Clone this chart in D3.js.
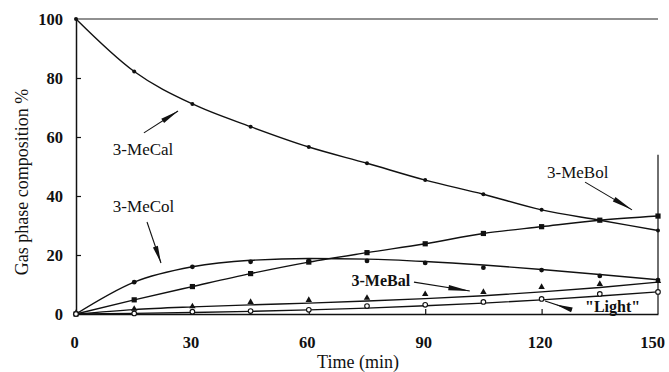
<!DOCTYPE html>
<html>
<head>
<meta charset="utf-8">
<script src="https://cdn.jsdelivr.net/npm/d3@7"></script>
<style>
  html, body { margin: 0; padding: 0; background: #fff; }
  svg { display: block; }
  text { font-family: "Liberation Serif", "Times New Roman", serif; fill: #111; }
</style>
</head>
<body>
<svg id="chart" width="669" height="372"></svg>
<script>
// Sampling times (min)
const times = [0, 15, 30, 45, 60, 75, 90, 105, 120, 135, 150];

// Measured gas-phase composition (%)
const meCal = [100, 82.2, 71.2, 63.5, 56.6, 51.1, 45.4, 40.6, 35.3, 31.8, 28.3];
const meBol = [0, 4.8, 9.3, 13.7, 17.6, 20.8, 23.8, 27.3, 29.6, 31.8, 33.2];
const meCol = [0, 10.8, 16.0, 17.7, 17.9, 18.0, 17.3, 15.7, 14.9, 12.9, 11.5];
const meBal = [0, 1.4, 2.2, 3.7, 4.4, 5.1, 6.4, 7.1, 8.8, 9.8, 10.8];
const light = [0, 0.2, 0.8, 1.0, 1.4, 2.7, 3.1, 4.1, 5.1, 6.8, 7.5];

// Smoothed trend curves
const meCalFit = meCal;
const meBolFit = meBol;
const meColFit = [0, 10.8, 16.0, 18.2, 18.8, 18.6, 17.8, 16.6, 15.1, 13.4, 11.6];
const meBalFit = [0, 1.5, 2.4, 3.1, 3.7, 4.4, 5.2, 6.2, 7.5, 9.0, 10.8];
const lightFit = [0, 0.2, 0.5, 0.9, 1.4, 2.0, 2.8, 3.7, 4.8, 6.1, 7.5];

// Axis ticks
const xTicks = [0, 30, 60, 90, 120, 150];
const yTicks = [0, 20, 40, 60, 80, 100];

// Annotation labels with leader arrows (data units)
const labels = [
  { text: "3-MeCal", t: 9.5, v: 54.0, bold: false, size: 17, arrow: [17.5, 61.4, 26.3, 68.8], head: [0.55, 1] },
  { text: "3-MeCol", t: 9.5, v: 34.6, bold: false, size: 17, arrow: [18.3, 31.2, 21.9, 17.3], head: [0.6, 1] },
  { text: "3-MeBol", t: 121.4, v: 46.1, bold: false, size: 17, arrow: [131.2, 44.7, 143.3, 35.3], head: [0.62, 1] },
  { text: "3-MeBal", t: 71.0, v: 9.5, bold: true, size: 16, arrow: [87.1, 10.8, 101.5, 7.8], head: [0.62, 1] },
  { text: "\"Light\"", t: 131.2, v: 0.7, bold: true, size: 16, arrow: [127.8, 1.4, 120.9, 4.4], head: [0, 0.6] }
];

const svg = d3.select("#chart");
const x = d3.scaleLinear().domain([0, 150]).range([76, 658]);
const y = d3.scaleLinear().domain([0, 100]).range([314, 19]);

// Frame: top edge and partial right edge
svg.append("line").attr("x1", x(0)).attr("x2", x(150)).attr("y1", y(100)).attr("y2", y(100))
  .attr("stroke", "#222").attr("stroke-width", 1.1);
svg.append("line").attr("x1", x(150)).attr("x2", x(150)).attr("y1", y(54)).attr("y2", y(0))
  .attr("stroke", "#222").attr("stroke-width", 1.3);

// Axes with inward ticks
const xAxis = d3.axisBottom(x).tickValues(xTicks).tickSizeInner(-5).tickSizeOuter(0).tickPadding(22);
const yAxis = d3.axisLeft(y).tickValues(yTicks).tickSizeInner(-5).tickSizeOuter(0).tickPadding(13);

const gx = svg.append("g").attr("transform", `translate(0,${y(0)})`).call(xAxis);
const gy = svg.append("g").attr("transform", `translate(${x(0)},0)`).call(yAxis);
[gx, gy].forEach(g => {
  g.select(".domain").attr("stroke", "#111").attr("stroke-width", 1.5);
  g.selectAll(".tick line").attr("stroke", "#111").attr("stroke-width", 1.2);
  g.selectAll(".tick text").attr("font-size", 16.5).attr("font-weight", "bold")
    .attr("font-family", "Liberation Serif").attr("fill", "#111");
});
gx.selectAll(".tick text").attr("dx", d => d === 150 ? -6 : -2);
gx.selectAll(".tick").filter(d => d === 0 || d === 150).select("line").remove();
gy.selectAll(".tick").filter(d => d === 0 || d === 100).select("line").remove();

// Axis titles
svg.append("text").attr("x", 358).attr("y", 368).attr("text-anchor", "middle")
  .attr("font-size", 18).text("Time (min)");
svg.append("text").attr("transform", "translate(28,182) rotate(-90)").attr("text-anchor", "middle")
  .attr("font-size", 18).text("Gas phase composition %");

// Trend curves
const line = d3.line().x((d, i) => x(times[i])).y(d => y(d)).curve(d3.curveMonotoneX);
[meCalFit, meBolFit, meColFit, meBalFit, lightFit].forEach(s => {
  svg.append("path").datum(s).attr("d", line).attr("fill", "none")
    .attr("stroke", "#111").attr("stroke-width", 1.4);
});

// Markers
const pts = s => s.map((v, i) => ({ t: times[i], v }));
svg.append("g").selectAll("circle").data(pts(meCal)).join("circle")
  .attr("cx", d => x(d.t)).attr("cy", d => y(d.v)).attr("r", 2).attr("fill", "#111");
svg.append("g").selectAll("circle").data(pts(meCol)).join("circle")
  .attr("cx", d => x(d.t)).attr("cy", d => y(d.v)).attr("r", 2.4).attr("fill", "#111");
svg.append("g").selectAll("rect").data(pts(meBol)).join("rect")
  .attr("x", d => x(d.t) - 2.6).attr("y", d => y(d.v) - 2.6).attr("width", 5.2).attr("height", 5.2)
  .attr("fill", "#111");
const tri = d3.symbol().type(d3.symbolTriangle).size(18);
svg.append("g").selectAll("path").data(pts(meBal)).join("path")
  .attr("transform", d => `translate(${x(d.t)},${y(d.v) - 1})`).attr("d", tri).attr("fill", "#111");
svg.append("g").selectAll("circle").data(pts(light)).join("circle")
  .attr("cx", d => x(d.t)).attr("cy", d => y(d.v)).attr("r", 2.3)
  .attr("fill", "#fff").attr("stroke", "#111").attr("stroke-width", 1.1);

// Labels and leader arrows; the head runs from fraction a (base) to b (tip) along the leader
labels.forEach(L => {
  svg.append("text").attr("x", x(L.t)).attr("y", y(L.v)).attr("font-size", L.size)
    .attr("font-weight", L.bold ? "bold" : "normal").text(L.text);
  const [t1, v1, t2, v2] = L.arrow;
  const p1 = [x(t1), y(v1)], p2 = [x(t2), y(v2)];
  svg.append("line").attr("x1", p1[0]).attr("y1", p1[1]).attr("x2", p2[0]).attr("y2", p2[1])
    .attr("stroke", "#111").attr("stroke-width", 1.1);
  const dx = p2[0] - p1[0], dy = p2[1] - p1[1];
  const len = Math.hypot(dx, dy), ux = dx / len, uy = dy / len;
  const [a, b] = L.head;
  const base = [p1[0] + dx * a, p1[1] + dy * a];
  const tip = [p1[0] + dx * b, p1[1] + dy * b];
  const hw = 2.6;
  const nx = -uy * hw, ny = ux * hw;
  svg.append("path")
    .attr("d", `M${tip[0]},${tip[1]}L${base[0] + nx},${base[1] + ny}L${base[0] - nx},${base[1] - ny}Z`)
    .attr("fill", "#111");
});
</script>
</body>
</html>
